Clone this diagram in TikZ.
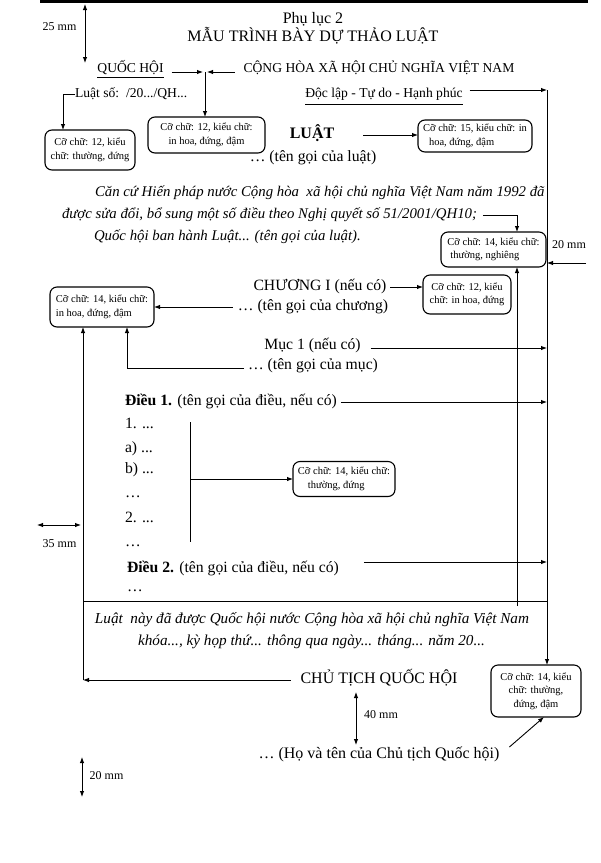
\documentclass[tikz,border=0pt]{standalone}
\usepackage{fontspec}
\setmainfont{Liberation Serif}
\usetikzlibrary{arrows.meta,calc}
\begin{document}
\begin{tikzpicture}[x=1pt,y=1pt,
  every node/.style={inner sep=0pt,outer sep=0pt},
  mtxt/.style={font=\fontsize{15.7}{19}\selectfont,text height=11pt,text depth=3.5pt},
  btxt/.style={font=\fontsize{16}{19}\selectfont\bfseries,text height=11pt,text depth=3.5pt},
  itxt/.style={font=\fontsize{14.8}{18}\selectfont\itshape,text height=10.5pt,text depth=3.5pt},
  etxt/.style={font=\fontsize{15.2}{18}\selectfont\itshape,text height=10.5pt,text depth=3.5pt},
  htxt/.style={font=\fontsize{13.6}{16}\selectfont,text height=9.5pt,text depth=3pt},
  lbl/.style={font=\fontsize{12}{14}\selectfont},
  cbox/.style={draw,rounded corners=7pt,line width=1.1pt,font=\fontsize{10.5}{13.5}\selectfont,align=center},
  lbox/.style={cbox,align=left},
  arr/.style={-{Latex[length=6pt,width=4.5pt]},line width=0.9pt},
  darr/.style={{Latex[length=6pt,width=4.5pt]}-{Latex[length=6pt,width=4.5pt]},line width=0.9pt},
  ln/.style={line width=0.9pt}
]
\useasboundingbox (0,0) rectangle (601,-863);
% top line
\coordinate (tl) at (40,-1.5);
\coordinate (tr) at (588,-1.5);
\draw[line width=2.5pt] (tl) -- (tr);
% 25 mm
\coordinate (a25) at (85,-4);
\coordinate (b25) at (85,-63);
\draw[darr] (a25) -- (b25);
\node[lbl] (l25) at (59.5,-27) {25 mm};
% titles
\node[mtxt,font=\fontsize{16}{19}\selectfont] (t1) at (313,-20) {Phụ lục 2};
\node[mtxt,font=\fontsize{16}{19}\selectfont] (t2) at (313,-38) {MẪU TRÌNH BÀY DỰ THẢO LUẬT};
% header
\node[htxt] (qh) at (130.5,-69) {QUỐC HỘI};
\draw[line width=0.7pt] ([yshift=-1.8pt]qh.south west) -- ([yshift=-1.8pt]qh.south east);
\node[htxt] (ch) at (379,-69) {CỘNG HÒA XÃ HỘI CHỦ NGHĨA VIỆT NAM};
\coordinate (j) at (205,-72);
\draw[arr] ($(qh.east|-j)+(8,0)$) -- ($(j)+(-2,0)$);
\draw[arr] ($(ch.west|-j)+(-9,0)$) -- ($(j)+(2,0)$);
\node[htxt,anchor=west] (ls) at (75,-94) {Luật số:\ \ /20.../QH...};
\node[htxt] (dl) at (384,-94) {Độc lập - Tự do - Hạnh phúc};
\draw[line width=0.7pt] ([yshift=-3.8pt]dl.south west) -- ([yshift=-3.8pt]dl.south east);
% boxes row 1
\node[cbox,minimum width=90pt,minimum height=40pt] (box1) at (90,-150) {Cỡ chữ: 12, kiểu\\chữ: thường, đứng};
\node[cbox,minimum width=117pt,minimum height=36pt] (box2) at (206.5,-135) {Cỡ chữ: 12, kiểu chữ:\\in hoa, đứng, đậm};
\node[lbox,minimum width=114pt,minimum height=32pt] (box3) at (475,-136) {Cỡ chữ: 15, kiểu chữ: in\\\hspace*{6pt}hoa, đứng, đậm};
\draw[arr] (j) -- (j |- box2.north);
\coordinate (b1) at (63,-94);
\draw[ln] (ls.west) -- (b1);
\draw[arr] (b1) -- (b1 |- box1.north);
\coordinate (rm) at (547,-90);
\draw[arr] ($(dl.east|-rm)+(7,0)$) -- (rm);
% LUAT
\node[btxt] (luat) at (312,-135) {LUẬT};
\draw[arr] ($(luat.east)+(29,0)$) -- (box3.west |- luat.east);
\node[mtxt] (tgl) at (313,-158) {… (tên gọi của luật)};
% paragraph
\node[itxt,anchor=west] (p1) at (95,-193) {Căn cứ Hiến pháp nước Cộng hòa\ \ xã hội chủ nghĩa Việt Nam năm 1992 đã};
\node[itxt,anchor=west] (p2) at (62,-215) {được sửa đổi, bổ sung một số điều theo Nghị quyết số 51/2001/QH10;};
\node[itxt,anchor=west] (p3) at (94,-237) {Quốc hội ban hành Luật... (tên gọi của luật).};
\node[lbox,minimum width=105pt,minimum height=35pt] (box4) at (493.5,-249.5) {Cỡ chữ: 14, kiểu chữ:\\\hspace*{3pt}thường, nghiêng};
\coordinate (k) at (517,-215);
\draw[arr] ($(p2.east)+(6,0)$) -- (k) -- (k |- box4.north);
% 20 mm right
\node[lbl] (l20) at (569,-245) {20 mm};
\coordinate (m20) at (586,-263);
\draw[arr] (m20) -- (rm |- m20);
% chuong
\node[mtxt] (chg) at (320,-287) {CHƯƠNG I (nếu có)};
\node[cbox,minimum width=88pt,minimum height=39pt] (box6) at (467,-294.5) {Cỡ chữ: 12, kiểu\\chữ: in hoa, đứng};
\draw[arr] ($(chg.east)+(4,0)$) -- (box6.west |- chg.east);
\node[mtxt] (tgc) at (313,-307) {… (tên gọi của chương)};
\node[lbox,minimum width=104pt,minimum height=40pt] (box5) at (102,-307) {Cỡ chữ: 14, kiểu chữ:\\in hoa, đứng, đậm};
\draw[arr] ($(tgc.west)+(-5,0)$) -- (box5.east |- tgc.west);
% muc
\node[mtxt] (muc) at (312.5,-346) {Mục 1 (nếu có)};
\coordinate (r1) at (547,-348);
\draw[arr] ($(muc.east|-r1)+(10,0)$) -- (r1);
\node[mtxt] (tgm) at (313,-366) {… (tên gọi của mục)};
\coordinate (c5) at (127,-368);
\draw[arr] ($(tgm.west|-c5)+(-4,0)$) -- (c5) -- (c5 |- box5.south);
% dieu 1
\node[mtxt,anchor=west] (d1) at (125,-402) {\textbf{Điều 1.} (tên gọi của điều, nếu có)};
\draw[arr] ($(d1.east)+(4,0)$) -- (rm |- d1.east);
\node[mtxt,anchor=west] (i1) at (125,-425) {1. ...};
\node[mtxt,anchor=west] (i2) at (125,-449) {a) ...};
\node[mtxt,anchor=west] (i3) at (125,-470) {b) ...};
\node[mtxt,anchor=west] (i4) at (125,-494) {…};
\node[mtxt,anchor=west] (i5) at (125,-519) {2. ...};
\node[mtxt,anchor=west] (i6) at (125,-543) {…};
\coordinate (v1) at (190,-422);
\coordinate (v2) at (190,-542);
\draw[ln] (v1) -- (v2);
\node[lbox,minimum width=102pt,minimum height=35pt] (box7) at (344,-479) {Cỡ chữ: 14, kiểu chữ:\\\hspace*{10pt}thường, đứng};
\coordinate (v3) at (190,-479);
\draw[arr] (v3) -- (v3 -| box7.west);
% dieu 2
\node[mtxt,anchor=west] (d2) at (127,-569) {\textbf{Điều 2.} (tên gọi của điều, nếu có)};
\coordinate (r2) at (547,-562);
\draw[arr] ($(d2.east|-r2)+(25,0)$) -- (r2);
\node[mtxt,anchor=west] (i7) at (127,-588) {…};
% 35 mm
\coordinate (a35) at (37,-525);
\coordinate (b35) at (81,-525);
\draw[darr] (a35) -- (b35);
\node[lbl] (l35) at (59.5,-544) {35 mm};
% bottom line
\coordinate (lb) at (83,-601);
\coordinate (rb) at (547,-601);
\draw[ln] (lb) -- (rb);
\coordinate (q) at (517,-606);
\draw[arr] (q) -- (q |- box4.south);
% ending text
\node[etxt] (e1) at (312,-620) {Luật\ \ này đã được Quốc hội nước Cộng hòa xã hội chủ nghĩa Việt Nam};
\node[etxt] (e2) at (311.5,-642) {khóa..., kỳ họp thứ... thông qua ngày... tháng... năm 20...};
% box8
\node[cbox,minimum width=90pt,minimum height=52pt] (box8) at (536,-691) {Cỡ chữ: 14, kiểu\\chữ: thường,\\đứng, đậm};
\draw[arr] (rm) -- (rm |- box8.north);
% chu tich
\node[mtxt,font=\fontsize{16}{19}\selectfont] (ct) at (379,-680) {CHỦ TỊCH QUỐC HỘI};
\coordinate (lm) at (83,-680);
\draw[arr] (lm) -- (lm |- box5.south);
\draw[arr] ($(ct.west)+(-10,0)$) -- (lm);
% 40 mm
\coordinate (a40) at (356,-692);
\coordinate (b40) at (356,-745);
\draw[darr] (a40) -- (b40);
\node[lbl] (l40) at (381,-715) {40 mm};
\node[mtxt,font=\fontsize{16}{19}\selectfont] (ht) at (379,-755) {… (Họ và tên của Chủ tịch Quốc hội)};
\draw[arr] ($(ht.east)+(10,8)$) -- ([xshift=8pt]box8.south);
% 20 mm bottom
\coordinate (a20) at (82,-757);
\coordinate (b20) at (82,-797);
\draw[darr] (a20) -- (b20);
\node[lbl] (l20b) at (106.5,-776) {20 mm};
\end{tikzpicture}
\end{document}
